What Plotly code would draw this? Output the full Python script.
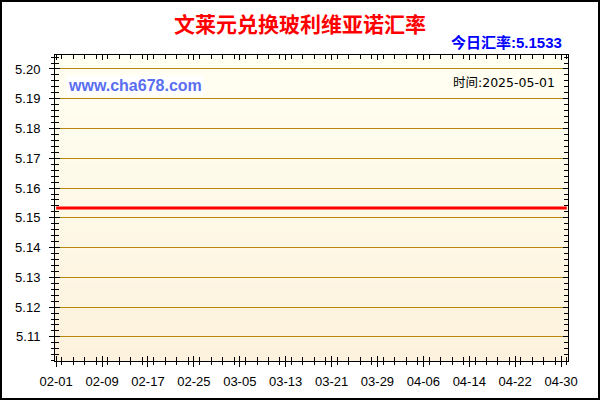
import plotly.graph_objects as go

# exchange rate series (BND -> BOB), flat over the period
dates = ["2025-02-01", "2025-03-01", "2025-04-01", "2025-05-01"]
rates = [5.1533, 5.1533, 5.1533, 5.1533]

title_text = "文莱元兑换玻利维亚诺汇率"
today_text = "今日汇率:5.1533"
site_text = "www.cha678.com"
time_text = "时间:2025-05-01"

y_range = [5.1019, 5.2047]
x_range = ["2025-01-31 19:00", "2025-05-01 05:00"]

W, H = 600, 400
L, R, T, B = 55, 32, 55, 39
pw, ph = W - L - R, H - T - B

fig = go.Figure()
fig.add_trace(go.Scatter(x=dates, y=rates, mode="lines",
                         line=dict(color="#FF0000", width=3),
                         hoverinfo="skip", showlegend=False))
# dummy trace so the overlay axes get drawn
fig.add_trace(go.Scatter(x=dates[:1], y=rates[:1], xaxis="x2", yaxis="y2",
                         mode="markers", marker=dict(opacity=0),
                         hoverinfo="skip", showlegend=False))

# background gradient, light ivory at top to pale beige at bottom
top_c, bot_c = (255, 255, 242), (253, 242, 221)
n = 40
shapes = []
for i in range(n):
    t = i / (n - 1)
    c = tuple(round(top_c[k] + (bot_c[k] - top_c[k]) * t) for k in range(3))
    shapes.append(dict(type="rect", xref="x domain", yref="y domain",
                       x0=0, x1=1, y0=1 - (i + 1) / n, y1=1 - i / n + 0.001,
                       fillcolor="rgb(%d,%d,%d)" % c, line=dict(width=0),
                       layer="below"))
# outer black frame
shapes.append(dict(type="rect", xref="paper", yref="paper",
                   x0=(1 - L) / pw, x1=(W - 1 - L) / pw,
                   y0=(H - B - (H - 1)) / ph, y1=(H - B - 1) / ph,
                   line=dict(color="black", width=2)))

tick_font = dict(family="Liberation Sans, Arial, sans-serif", size=13, color="#000000")
day = 86400000

fig.update_layout(
    template="none",
    width=W, height=H,
    margin=dict(l=L, r=R, t=T, b=B, pad=0, autoexpand=False),
    paper_bgcolor="white",
    plot_bgcolor="#FFFBEA",
    title=dict(text="<b>" + title_text + "</b>", x=0.5, xref="container",
               xanchor="center", y=1 - 25 / H, yref="container", yanchor="middle",
               font=dict(family="Noto Sans CJK SC", size=21, color="#FF0000")),
    shapes=shapes,
    xaxis=dict(type="date", range=x_range, tick0="2025-02-01", dtick=8 * day,
               tickformat="%m-%d", ticks="outside", ticklen=5, tickcolor="black",
               minor=dict(dtick=2 * day, ticks="outside", ticklen=3, tickcolor="black"),
               showline=True, linecolor="black", linewidth=1, mirror=True,
               showgrid=False, zeroline=False, tickfont=tick_font,
               ticklabelstandoff=3, automargin=False),
    yaxis=dict(range=y_range, tick0=5.0, dtick=0.01, tickformat=".2f",
               ticks="outside", ticklen=5, tickcolor="black",
               minor=dict(dtick=0.002, ticks="outside", ticklen=3, tickcolor="black"),
               showline=True, linecolor="black", linewidth=1, mirror=True,
               showgrid=True, gridcolor="#B8860B", gridwidth=1,
               zeroline=False, tickfont=tick_font, ticklabelstandoff=6,
               automargin=False),
    xaxis2=dict(type="date", range=x_range, overlaying="x", anchor="y2",
                tick0="2025-02-01", dtick=8 * day, ticks="inside", ticklen=5,
                tickcolor="black", mirror="ticks",
                minor=dict(dtick=2 * day, ticks="inside", ticklen=4, tickcolor="black"),
                showticklabels=False, showgrid=False, showline=False, zeroline=False,
                automargin=False),
    yaxis2=dict(range=y_range, overlaying="y", anchor="x2", tick0=5.0, dtick=0.01,
                ticks="inside", ticklen=5, tickcolor="black", mirror="ticks",
                minor=dict(dtick=0.002, ticks="inside", ticklen=4, tickcolor="black"),
                showticklabels=False, showgrid=False, showline=False, zeroline=False,
                automargin=False),
    annotations=[
        dict(text="<b>" + today_text + "</b>", xref="paper", yref="paper",
             x=(564 - L) / pw, y=(H - B - 43) / ph, xanchor="right", yanchor="middle",
             showarrow=False,
             font=dict(family="Liberation Sans, Noto Sans CJK SC", size=15, color="#0000FF")),
        dict(text="<b>" + site_text + "</b>", xref="paper", yref="paper",
             x=(66 - L) / pw, y=(H - B - 85) / ph, xanchor="left", yanchor="middle",
             showarrow=False, bgcolor="white",
             font=dict(family="Liberation Sans, Arial, sans-serif", size=16, color="#5A6EF0")),
        dict(text=time_text, xref="paper", yref="paper",
             x=(557 - L) / pw, y=(H - B - 82) / ph, xanchor="right", yanchor="middle",
             showarrow=False,
             font=dict(family="DejaVu Sans, Noto Sans CJK SC", size=12.5, color="#000000")),
    ],
)

# drop the default page margin so the chart sits at the window's corner
fig.write_html("out.html", config={"displayModeBar": False},
               post_script="document.body.style.margin='0';")
